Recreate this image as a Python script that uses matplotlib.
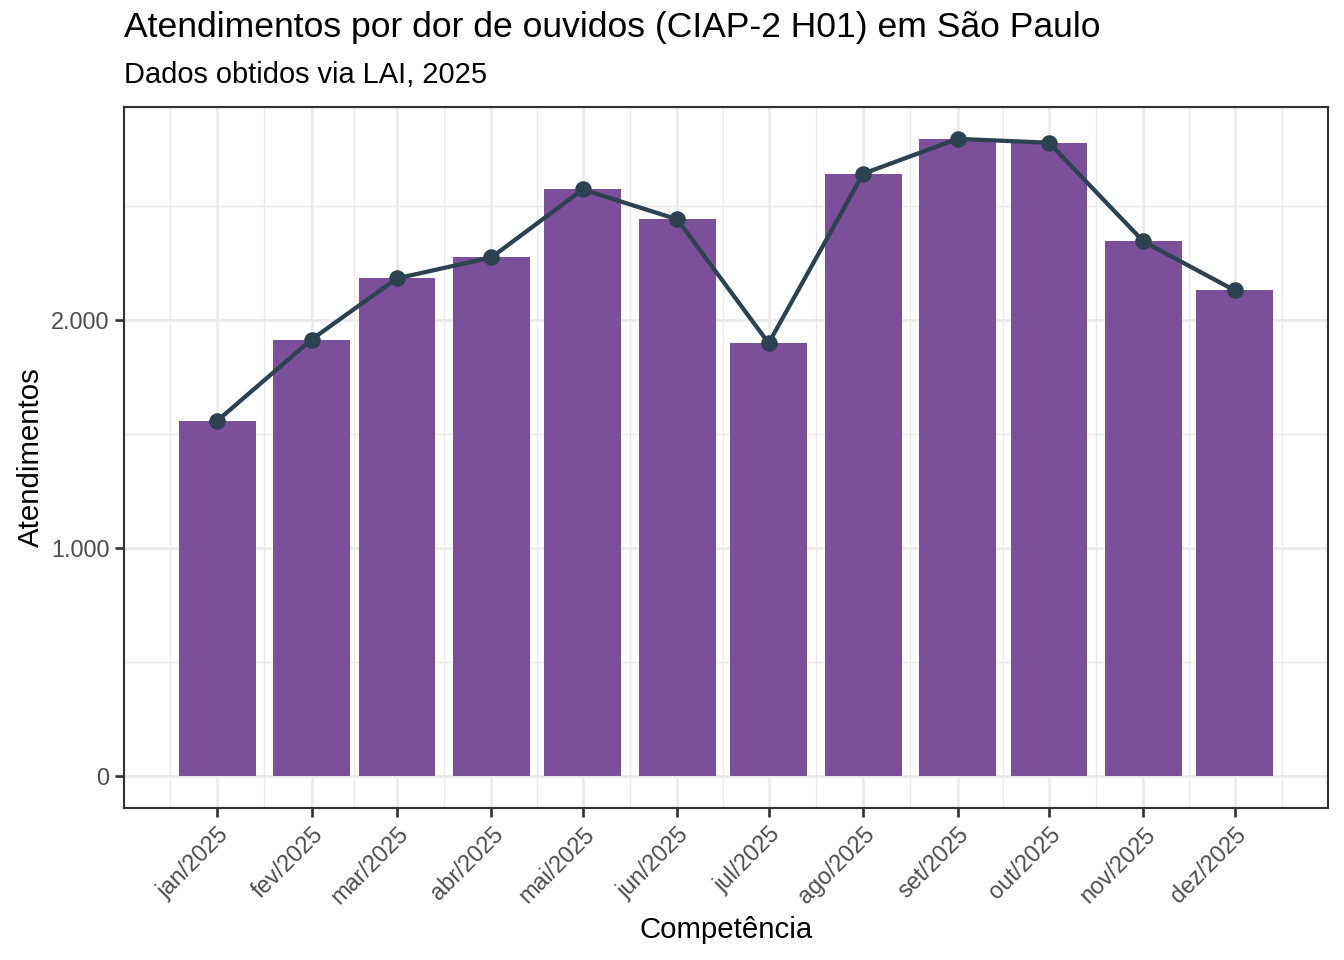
import numpy as np
import matplotlib
matplotlib.use("Agg")
import matplotlib.pyplot as plt
import matplotlib.dates as mdates
from matplotlib.ticker import FuncFormatter, FixedLocator

plt.rcParams["font.family"] = ["Liberation Sans", "DejaVu Sans"]

# ====== dados ======
meses = ["2025-01-01", "2025-02-01", "2025-03-01", "2025-04-01", "2025-05-01", "2025-06-01",
         "2025-07-01", "2025-08-01", "2025-09-01", "2025-10-01", "2025-11-01", "2025-12-01"]
rotulos = ["jan/2025", "fev/2025", "mar/2025", "abr/2025", "mai/2025", "jun/2025",
           "jul/2025", "ago/2025", "set/2025", "out/2025", "nov/2025", "dez/2025"]
atendimentos = [1558, 1915, 2183, 2275, 2573, 2442, 1899, 2642, 2795, 2778, 2345, 2130]

titulo = "Atendimentos por dor de ouvidos (CIAP-2 H01) em São Paulo"
subtitulo = "Dados obtidos via LAI, 2025"

datas = mdates.datestr2num(meses)
largura = 0.9 * 28  # dias (resolução mínima = fevereiro)

fig = plt.figure(figsize=(7, 5), dpi=192)
ax = fig.add_axes([124 / 1344, 1 - 808 / 960, (1328 - 124) / 1344, (808 - 107) / 960])

ax.bar(datas, atendimentos, width=largura, color="#7B4F9A", zorder=2)
ax.plot(datas, atendimentos, color="#2D4250", linewidth=1.6, zorder=3)
ax.plot(datas, atendimentos, "o", color="#2D4250", markersize=5.2, zorder=4)

# limites estilo ggplot (expansão de 5%)
x0, x1 = datas[0] - largura / 2, datas[-1] + largura / 2
dx = (x1 - x0) * 0.05
ax.set_xlim(x0 - dx, x1 + dx)
ymax = max(atendimentos)
ax.set_ylim(-ymax * 0.05, ymax * 1.05)

# grade
bordas = mdates.datestr2num(["2024-12-01"] + meses + ["2026-01-01"])
menores = (bordas[:-1] + bordas[1:]) / 2
ax.xaxis.set_major_locator(FixedLocator(datas))
ax.xaxis.set_minor_locator(FixedLocator(menores))
ax.set_xticklabels(rotulos)
ax.yaxis.set_major_locator(FixedLocator([0, 1000, 2000]))
ax.yaxis.set_minor_locator(FixedLocator([500, 1500, 2500]))
ax.yaxis.set_major_formatter(FuncFormatter(lambda v, p: f"{int(v):,}".replace(",", ".")))

ax.grid(which="major", color="#EBEBEB", linewidth=1.07, zorder=0)
ax.grid(which="minor", color="#EBEBEB", linewidth=0.55, zorder=0)
ax.set_axisbelow(True)
ax.tick_params(which="minor", length=0)
ax.tick_params(which="major", length=3.5, width=1.0, color="#333333",
               labelcolor="#4D4D4D", labelsize=8.8, pad=2)
plt.setp(ax.get_xticklabels(), rotation=45, ha="right", va="top", rotation_mode="anchor")
for s in ax.spines.values():
    s.set_color("#333333")
    s.set_linewidth(0.8)

ax.set_xlabel("Competência", fontsize=11, labelpad=2.8)
ax.set_ylabel("Atendimentos", fontsize=11, labelpad=2.3)

fig.text(124 / 1344, 1 - 28 / 960, titulo, fontsize=13.3, va="center", ha="left")
fig.text(124 / 1344, 1 - 75 / 960, subtitulo, fontsize=10.9, va="center", ha="left")

fig.savefig("out.png", dpi=192)
